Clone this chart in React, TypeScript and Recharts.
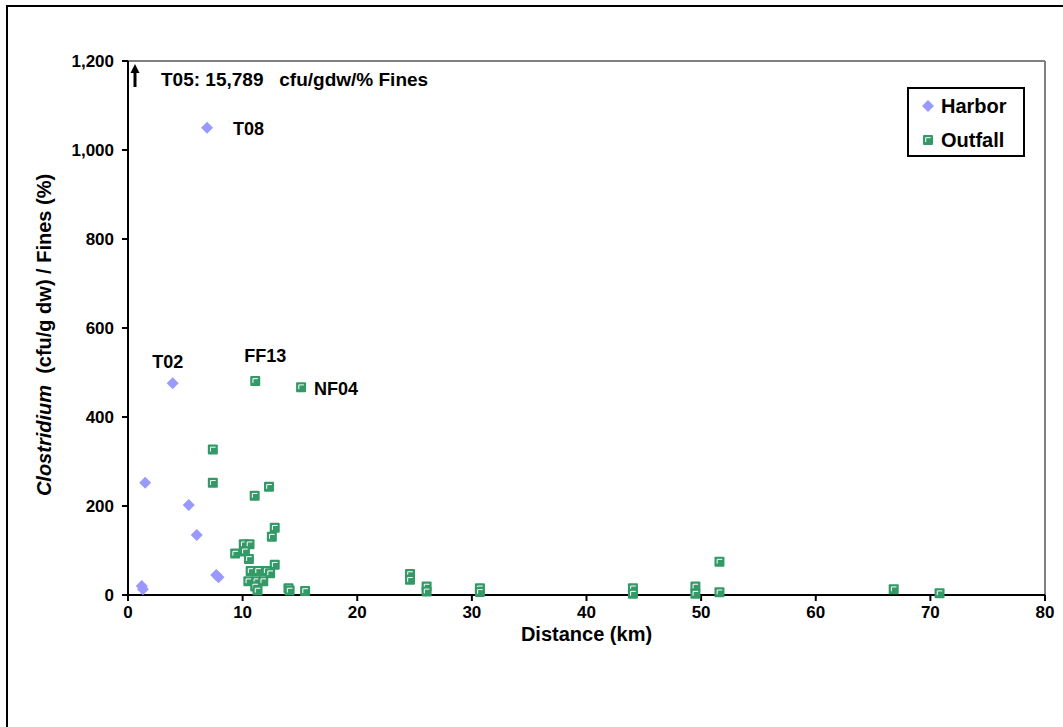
import React from "react";
import {
  ScatterChart,
  Scatter,
  XAxis,
  YAxis,
  ReferenceLine,
  LabelList,
} from "recharts";

// Harbor stations (distance km, ratio, station label)
const harborKm = [6.9, 3.9, 1.5, 5.3, 6.0, 7.7, 7.9, 1.2, 1.3];
const harborRatio = [1050, 476, 252, 202, 135, 45, 40, 20, 13];
const harborSite = ["T08", "T02", "", "", "", "", "", "", ""];

// Outfall stations
const outfallKm = [
  11.1, 15.1, 7.4, 7.4, 12.3, 11.05, 12.8, 12.55, 10.1, 10.6, 10.2, 9.35, 10.55,
  12.8, 10.7, 11.35, 12.1, 12.4, 10.5, 11.2, 11.8, 11.1, 11.3, 14.0, 14.1,
  15.45, 24.6, 24.6, 26.05, 26.05, 30.7, 30.7, 44.05, 44.05, 49.5, 49.5, 51.6,
  51.6, 66.8, 70.8,
];
const outfallRatio = [
  481, 467, 327, 252, 243, 223, 151, 131, 114, 114, 98, 93, 81, 68, 54, 54, 54,
  49, 31, 31, 31, 19, 10, 15, 10, 9, 47, 34, 19, 8, 15, 7, 15, 3, 19, 3, 75, 6,
  13, 4,
];
const outfallSite = ["FF13", "NF04"];

const xTicks = [0, 10, 20, 30, 40, 50, 60, 70, 80];
const yTicks = [0, 200, 400, 600, 800, 1000, 1200];

const harborData = harborKm.map((km, i) => ({
  km,
  ratio: harborRatio[i],
  site: harborSite[i] ?? "",
}));
const outfallData = outfallKm.map((km, i) => ({
  km,
  ratio: outfallRatio[i],
  site: outfallSite[i] ?? "",
}));

const HARBOR_COLOR = "#9999ff";
const OUTFALL_COLOR = "#339966";
const FONT = "'Liberation Sans', Arial, sans-serif";

// where each station label sits relative to its marker
const LABEL_POS: Record<string, { dx: number; dy: number; anchor: "start" | "middle" }> = {
  T08: { dx: 26, dy: 7, anchor: "start" },
  T02: { dx: -5, dy: -15, anchor: "middle" },
  FF13: { dx: 10, dy: -19, anchor: "middle" },
  NF04: { dx: 13, dy: 8, anchor: "start" },
};

function Diamond(props: any) {
  const { cx, cy } = props;
  const r = 6;
  return (
    <path
      d={`M${cx},${cy - r} L${cx + r},${cy} L${cx},${cy + r} L${cx - r},${cy} Z`}
      fill={HARBOR_COLOR}
    />
  );
}

function FramedSquare(props: any) {
  const { cx, cy } = props;
  return (
    <g>
      <rect x={cx - 5} y={cy - 5} width={10} height={10} rx={1} fill={OUTFALL_COLOR} />
      <path
        d={`M${cx - 2.3},${cy + 2} L${cx - 2.3},${cy - 2.3} L${cx + 2.8},${cy - 2.3}`}
        stroke="#fff"
        strokeWidth={1}
        fill="none"
      />
    </g>
  );
}

function SiteLabel(props: any) {
  const { x, y, width, height, value } = props;
  const pos = LABEL_POS[value];
  if (!value || !pos) return null;
  const cx = x + (width ?? 0) / 2;
  const cy = y + (height ?? 0) / 2;
  return (
    <text
      x={cx + pos.dx}
      y={cy + pos.dy}
      textAnchor={pos.anchor}
      fontFamily={FONT}
      fontWeight="bold"
      fontSize={18}
      fill="#000"
    >
      {value}
    </text>
  );
}

function LegendBox() {
  return (
    <div
      style={{
        position: "absolute",
        left: 907,
        top: 87,
        width: 118,
        height: 70,
        border: "2px solid #000",
        background: "#fff",
        boxSizing: "border-box",
      }}
    >
      <svg width={114} height={66} style={{ position: "absolute", left: 0, top: 0 }}>
        <Diamond cx={19} cy={17} />
        <text x={32} y={24} fontFamily={FONT} fontWeight="bold" fontSize={20}>
          Harbor
        </text>
        <FramedSquare cx={19} cy={51} />
        <text x={32} y={58} fontFamily={FONT} fontWeight="bold" fontSize={20}>
          Outfall
        </text>
      </svg>
    </div>
  );
}

const tickStyle = { fontFamily: FONT, fontWeight: "bold", fontSize: 17, fill: "#000" };

export default function App() {
  return (
    <div style={{ position: "absolute", left: 0, top: 0, width: 1063, height: 727, background: "#fff" }}>
      <div
        style={{
          position: "absolute",
          left: 6,
          top: 5,
          width: 1070,
          height: 740,
          border: "2px solid #000",
          boxSizing: "border-box",
        }}
      />
      <div style={{ position: "absolute", left: 0, top: 0 }}>
        <ScatterChart
          width={1063}
          height={727}
          margin={{ top: 61, right: 18, bottom: 72, left: 58 }}
        >
          <XAxis
            type="number"
            dataKey="km"
            domain={[0, 80]}
            ticks={xTicks}
            interval={0}
            stroke="#000"
            strokeWidth={2}
            tickSize={6}
            tickMargin={5}
            tick={tickStyle}
            height={60}
            label={{
              value: "Distance (km)",
              position: "insideBottom",
              offset: 14,
              style: { fontFamily: FONT, fontWeight: "bold", fontSize: 20, fill: "#000" },
            }}
          />
          <YAxis
            type="number"
            dataKey="ratio"
            domain={[0, 1200]}
            ticks={yTicks}
            interval={0}
            width={70}
            stroke="#000"
            strokeWidth={2}
            tickSize={6}
            tickMargin={8}
            tick={tickStyle}
            tickFormatter={(v: number) => v.toLocaleString("en-US")}
          />
          <ReferenceLine y={1200} stroke="#808080" strokeWidth={2} />
          <ReferenceLine x={80} stroke="#808080" strokeWidth={2} />
          <Scatter
            name="Harbor"
            data={harborData}
            shape={Diamond}
            fill={HARBOR_COLOR}
            isAnimationActive={false}
          >
            <LabelList dataKey="site" content={SiteLabel} />
          </Scatter>
          <Scatter
            name="Outfall"
            data={outfallData}
            shape={FramedSquare}
            fill={OUTFALL_COLOR}
            isAnimationActive={false}
          >
            <LabelList dataKey="site" content={SiteLabel} />
          </Scatter>
        </ScatterChart>
      </div>
      <LegendBox />
      {/* axis title and off-scale note for T05 */}
      <svg
        width={1063}
        height={727}
        style={{ position: "absolute", left: 0, top: 0, pointerEvents: "none" }}
      >
        <text
          transform="translate(51,335) rotate(-90)"
          textAnchor="middle"
          fontFamily={FONT}
          fontWeight="bold"
          fontSize={20}
          fill="#000"
        >
          <tspan fontStyle="italic">Clostridium</tspan>
          <tspan xmlSpace="preserve">{"  (cfu/g dw) / Fines (%)"}</tspan>
        </text>
        <line x1={135} y1={87} x2={135} y2={71} stroke="#000" strokeWidth={3} />
        <path d="M130.5,73 L139.5,73 L135,64 Z" fill="#000" />
        <text
          x={161}
          y={86}
          fontFamily={FONT}
          fontWeight="bold"
          fontSize={19}
          fill="#000"
          style={{ whiteSpace: "pre" }}
        >
          {"T05: 15,789   cfu/gdw/% Fines"}
        </text>
      </svg>
    </div>
  );
}
